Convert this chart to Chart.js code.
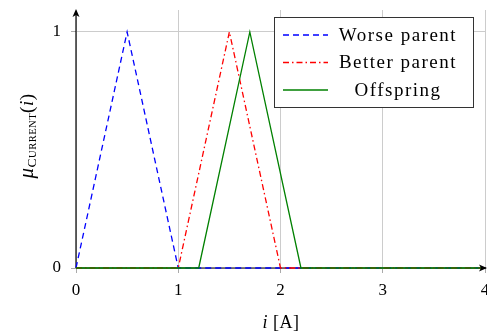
<!DOCTYPE html>
<html><head><meta charset="utf-8">
<script src="https://cdn.jsdelivr.net/npm/chart.js@4/dist/chart.umd.min.js"></script>
<style>html,body{margin:0;padding:0;background:#fff}#wrap{width:487px;height:335px}</style>
</head><body><div id="wrap"><canvas id="c" width="487" height="335"></canvas></div>
<script>
const seriesNames = ["Worse parent", "Better parent", "Offspring"];
const worseX = [0, 0.5, 1, 4];
const worseY = [0, 1, 0, 0];
const betterX = [0, 1, 1.5, 2, 4];
const betterY = [0, 0, 1, 0, 0];
const offX = [0, 1.2, 1.7, 2.2, 4];
const offY = [0, 0, 1, 0, 0];
const xTicks = [0, 1, 2, 3, 4];
const yTicks = [0, 1];

const pts = (xs, ys) => xs.map((x, i) => ({x, y: ys[i]}));
const FONT = '"Liberation Serif", "DejaVu Serif", serif';
const colors = ["#0000ff", "#ff0000", "#008000"];
const dashes = [[6, 4], [6, 3, 1.5, 3], []];

const under = {
  id: 'under',
  beforeDatasetsDraw(chart) {
    const ctx = chart.ctx, ca = chart.chartArea;
    const xs = chart.scales.x, ys = chart.scales.y;
    const x0 = xs.getPixelForValue(0), y0 = ys.getPixelForValue(0);
    ctx.save();
    ctx.strokeStyle = '#000'; ctx.lineWidth = 1.2;
    ctx.beginPath(); ctx.moveTo(x0, y0); ctx.lineTo(486, y0); ctx.stroke();
    ctx.beginPath(); ctx.moveTo(x0, y0); ctx.lineTo(x0, ca.top + 2); ctx.stroke();
    ctx.restore();
  }
};

const decor = {
  id: 'decor',
  afterDraw(chart) {
    const ctx = chart.ctx, ca = chart.chartArea;
    const xs = chart.scales.x, ys = chart.scales.y;
    const x0 = xs.getPixelForValue(0), y0 = ys.getPixelForValue(0);
    ctx.save();
    ctx.fillStyle = '#000';
    ctx.beginPath(); ctx.moveTo(x0, ca.top - 1); ctx.lineTo(x0 - 3.5, ca.top + 7); ctx.lineTo(x0, ca.top + 5); ctx.lineTo(x0 + 3.5, ca.top + 7); ctx.closePath(); ctx.fill();
    const xr = 487;
    ctx.beginPath(); ctx.moveTo(xr, y0); ctx.lineTo(xr - 8, y0 - 3.5); ctx.lineTo(xr - 6, y0); ctx.lineTo(xr - 8, y0 + 3.5); ctx.closePath(); ctx.fill();
    // legend
    const lx = 274, ly = 17, lw = 199, lh = 90;
    ctx.fillStyle = '#fff'; ctx.fillRect(lx, ly, lw, lh);
    ctx.strokeStyle = '#333'; ctx.lineWidth = 1; ctx.strokeRect(lx + 0.5, ly + 0.5, lw, lh);
    ctx.font = '19px ' + FONT; ctx.fillStyle = '#000'; ctx.textBaseline = 'middle';
    ctx.letterSpacing = '1.5px';
    for (let i = 0; i < 3; i++) {
      const yy = ly + 18 + i * 27.5;
      ctx.strokeStyle = colors[i]; ctx.lineWidth = 1.3; ctx.setLineDash(dashes[i]);
      ctx.beginPath(); ctx.moveTo(lx + 9, yy); ctx.lineTo(lx + 54, yy); ctx.stroke();
      ctx.setLineDash([]);
      ctx.textAlign = 'center';
      ctx.fillText(seriesNames[i], lx + 124, yy + 1);
    }
    ctx.letterSpacing = '0.5px';
    // x title
    ctx.textAlign = 'left'; ctx.textBaseline = 'alphabetic';
    const parts = [['italic 18px ' + FONT, 'i'], ['18px ' + FONT, ' [A]']];
    let tw = 0; parts.forEach(p => { ctx.font = p[0]; tw += ctx.measureText(p[1]).width; });
    let cx = 281 - tw / 2;
    parts.forEach(p => { ctx.font = p[0]; ctx.fillText(p[1], cx, 328); cx += ctx.measureText(p[1]).width; });
    // y title
    ctx.translate(33, 136); ctx.rotate(-Math.PI / 2);
    const yp = [['italic 21px ' + FONT, 'μ', 0], ['13.5px ' + FONT, 'C', 3], ['10.5px ' + FONT, 'URRENT', 3], ['19px ' + FONT, '(', 0], ['italic 19px ' + FONT, 'i', 0], ['19px ' + FONT, ')', 0]];
    tw = 0; yp.forEach(p => { ctx.font = p[0]; tw += ctx.measureText(p[1]).width; });
    cx = -tw / 2;
    yp.forEach(p => { ctx.font = p[0]; ctx.fillText(p[1], cx, p[2]); cx += ctx.measureText(p[1]).width; });
    ctx.restore();
  }
};

const clip0 = s => { s.paddingLeft = 0; s.paddingRight = 0; s.paddingTop = 0; s.paddingBottom = 0; };

new Chart(document.getElementById('c'), {
  type: 'scatter',
  data: {
    datasets: [
      {label: seriesNames[0], data: pts(worseX, worseY), order: 2, showLine: true, borderColor: colors[0], borderDash: dashes[0], borderWidth: 1.3, pointRadius: 0, fill: false, clip: 4},
      {label: seriesNames[1], data: pts(betterX, betterY), order: 1, showLine: true, borderColor: colors[1], borderDash: dashes[1], borderWidth: 1.3, pointRadius: 0, fill: false, clip: 4},
      {label: seriesNames[2], data: pts(offX, offY), order: 0, showLine: true, borderColor: colors[2], borderDash: dashes[2], borderWidth: 1.3, pointRadius: 0, fill: false, clip: 4}
    ]
  },
  options: {
    responsive: false, animation: false, devicePixelRatio: 1,
    layout: {padding: {left: 0, right: 2, top: 10, bottom: 0}},
    plugins: {legend: {display: false}, tooltip: {enabled: false}},
    scales: {
      x: {
        type: 'linear', min: 0, max: 4,
        afterBuildTicks: s => { s.ticks = xTicks.map(v => ({value: v})); },
        afterFit: s => { s.height = 67; clip0(s); },
        grid: {color: '#cccccc', lineWidth: 1, tickLength: 5, drawTicks: true, tickColor: '#aaaaaa'},
        border: {display: false},
        ticks: {color: '#000', font: {family: FONT, size: 17}, padding: 7, maxRotation: 0, autoSkip: false}
      },
      y: {
        type: 'linear', min: 0, max: 1.093,
        afterBuildTicks: s => { s.ticks = yTicks.map(v => ({value: v})); },
        afterFit: s => { s.width = 76; clip0(s); },
        grid: {color: '#cccccc', lineWidth: 1, tickLength: 5, drawTicks: true, tickColor: '#aaaaaa'},
        border: {display: false},
        ticks: {color: '#000', font: {family: FONT, size: 17}, padding: 10}
      }
    }
  },
  plugins: [under, decor]
});
</script></body></html>
